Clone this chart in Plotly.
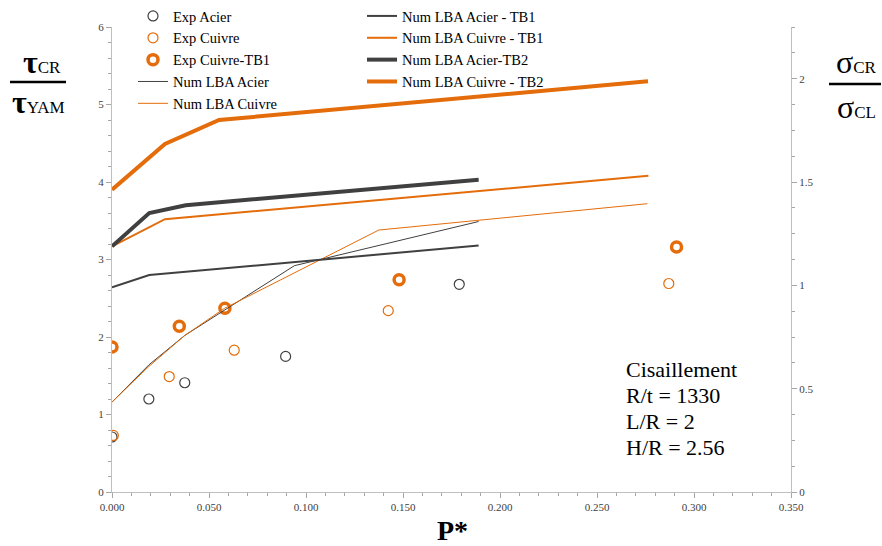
import plotly.graph_objects as go

# ---------------- data ----------------
exp_acier_x = [0.0, 0.019, 0.0375, 0.0895, 0.179]
exp_acier_y = [0.71, 1.20, 1.41, 1.75, 2.68]

exp_cuivre_x = [0.0007, 0.0295, 0.063, 0.1424, 0.287]
exp_cuivre_y = [0.73, 1.49, 1.83, 2.34, 2.69]

exp_cuivre_tb1_x = [0.0, 0.0347, 0.0582, 0.148, 0.291]
exp_cuivre_tb1_y = [1.87, 2.14, 2.37, 2.74, 3.16]

num_acier_x = [0.0, 0.019, 0.0375, 0.058, 0.094, 0.189]
num_acier_y = [1.16, 1.64, 2.02, 2.35, 2.92, 3.49]

num_cuivre_x = [0.0, 0.019, 0.0375, 0.058, 0.1375, 0.276]
num_cuivre_y = [1.16, 1.62, 2.02, 2.37, 3.38, 3.72]

num_acier_tb1_x = [0.0, 0.0192, 0.189]
num_acier_tb1_y = [2.64, 2.80, 3.18]

num_cuivre_tb1_x = [0.0, 0.0273, 0.2765]
num_cuivre_tb1_y = [3.17, 3.52, 4.08]

num_acier_tb2_x = [0.0, 0.0192, 0.038, 0.189]
num_acier_tb2_y = [3.17, 3.60, 3.70, 4.03]

num_cuivre_tb2_x = [0.0, 0.0273, 0.0552, 0.2763]
num_cuivre_tb2_y = [3.90, 4.49, 4.80, 5.30]

x_ticks = [0.0, 0.05, 0.1, 0.15, 0.2, 0.25, 0.3, 0.35]
y_ticks = [0, 1, 2, 3, 4, 5, 6]
y2_ticks = [0, 0.5, 1, 1.5, 2]

case_lines = ["Cisaillement", "R/t = 1330", "L/R = 2", "H/R = 2.56"]

ORANGE = "#E46C0A"
DARK = "#404040"
FONT = "Liberation Serif"

# plot-area geometry in page pixels
W, H = 882, 546
PL, PR, PT, PB = 112, 791, 27, 492
PW, PH = PR - PL, PB - PT


def px(xp):
    return (xp - PL) / PW


def py(yp):
    return (PB - yp) / PH


fig = go.Figure()

# legend 1 (left column)
fig.add_trace(go.Scatter(x=exp_acier_x, y=exp_acier_y, mode="markers", name="Exp Acier",
                         marker=dict(symbol="circle-open", size=10, color=DARK, line=dict(width=1.2)),
                         legend="legend"))
fig.add_trace(go.Scatter(x=exp_cuivre_x, y=exp_cuivre_y, mode="markers", name="Exp Cuivre",
                         marker=dict(symbol="circle-open", size=10, color=ORANGE, line=dict(width=1.2)),
                         legend="legend"))
fig.add_trace(go.Scatter(x=exp_cuivre_tb1_x, y=exp_cuivre_tb1_y, mode="markers", name="Exp Cuivre-TB1",
                         marker=dict(symbol="circle", size=10, color="white", line=dict(color=ORANGE, width=3.5)),
                         legend="legend"))
fig.add_trace(go.Scatter(x=num_acier_x, y=num_acier_y, mode="lines", name="Num LBA Acier",
                         line=dict(color=DARK, width=1), legend="legend"))
fig.add_trace(go.Scatter(x=num_cuivre_x, y=num_cuivre_y, mode="lines", name="Num LBA Cuivre",
                         line=dict(color=ORANGE, width=1), legend="legend"))

# legend 2 (right column)
fig.add_trace(go.Scatter(x=num_acier_tb1_x, y=num_acier_tb1_y, mode="lines", name="Num LBA Acier - TB1",
                         line=dict(color=DARK, width=2), legend="legend2"))
fig.add_trace(go.Scatter(x=num_cuivre_tb1_x, y=num_cuivre_tb1_y, mode="lines", name="Num LBA Cuivre - TB1",
                         line=dict(color=ORANGE, width=2), legend="legend2"))
fig.add_trace(go.Scatter(x=num_acier_tb2_x, y=num_acier_tb2_y, mode="lines", name="Num LBA Acier-TB2",
                         line=dict(color=DARK, width=4), legend="legend2"))
fig.add_trace(go.Scatter(x=num_cuivre_tb2_x, y=num_cuivre_tb2_y, mode="lines", name="Num LBA Cuivre - TB2",
                         line=dict(color=ORANGE, width=4), legend="legend2"))

# invisible trace to activate right axis
fig.add_trace(go.Scatter(x=[0], y=[0], yaxis="y2", mode="markers", marker=dict(opacity=0),
                         showlegend=False, hoverinfo="skip"))

axis_common = dict(showline=True, linecolor="#BFBFBF", linewidth=1, showgrid=False, zeroline=False,
                   ticks="outside", tickcolor="#A6A6A6", ticklen=5,
                   tickfont=dict(family=FONT, size=11, color="#404040"))

legend_font = dict(family=FONT, size=14.5, color="black")

fig.update_layout(
    width=W, height=H,
    margin=dict(l=PL, r=W - PR, t=PT, b=H - PB, autoexpand=False),
    paper_bgcolor="white", plot_bgcolor="white",
    font=dict(family=FONT, color="black"),
    xaxis=dict(range=[0, 0.35], tickvals=x_ticks, tickformat=".3f",
               minor=dict(dtick=0.01, ticks="outside", ticklen=3, tickcolor="#A6A6A6"),
               **axis_common),
    yaxis=dict(range=[0, 6], tickvals=y_ticks,
               minor=dict(dtick=0.2, ticks="outside", ticklen=3, tickcolor="#A6A6A6"),
               **axis_common),
    yaxis2=dict(range=[0, 2.25], tickvals=y2_ticks, overlaying="y", side="right",
                minor=dict(dtick=0.125, ticks="outside", ticklen=3, tickcolor="#A6A6A6"),
                **axis_common),
    legend=dict(x=px(133), y=py(0), xanchor="left", yanchor="top",
                font=legend_font, bgcolor="rgba(0,0,0,0)", tracegroupgap=0, itemwidth=30),
    legend2=dict(x=px(362), y=py(0), xanchor="left", yanchor="top",
                 font=legend_font, bgcolor="rgba(0,0,0,0)", tracegroupgap=0, itemwidth=30),
    showlegend=True,
)

# axis titles
fig.add_annotation(xref="paper", yref="paper", x=px(452), y=py(530), yanchor="middle",
                   text="<b>P*</b>", showarrow=False, font=dict(family=FONT, size=28, color="black"))

fig.add_annotation(xref="paper", yref="paper", x=px(42), y=py(62), xanchor="center", yanchor="middle",
                   text="<b>τ</b><span style='font-size:17px'>CR</span>", showarrow=False,
                   font=dict(family=FONT, size=32, color="black"))
fig.add_annotation(xref="paper", yref="paper", x=px(38), y=py(102), xanchor="center", yanchor="middle",
                   text="<b>τ</b><span style='font-size:17px'>YAM</span>", showarrow=False,
                   font=dict(family=FONT, size=32, color="black"))
fig.add_shape(type="line", xref="paper", yref="paper",
              x0=px(10), x1=px(66), y0=py(82), y1=py(82),
              line=dict(color="black", width=2.5))

fig.add_annotation(xref="paper", yref="paper", x=px(856), y=py(62), xanchor="center", yanchor="middle",
                   text="σ<span style='font-size:17px'>CR</span>", showarrow=False,
                   font=dict(family=FONT, size=32, color="black"))
fig.add_annotation(xref="paper", yref="paper", x=px(856), y=py(107), xanchor="center", yanchor="middle",
                   text="σ<span style='font-size:17px'>CL</span>", showarrow=False,
                   font=dict(family=FONT, size=32, color="black"))
fig.add_shape(type="line", xref="paper", yref="paper",
              x0=px(829), x1=px(881), y0=py(84), y1=py(84),
              line=dict(color="black", width=2.5))

# case annotation (one line each, to keep the tight line spacing)
for i, line_text in enumerate(case_lines):
    fig.add_annotation(xref="paper", yref="paper", x=px(624), y=py(370 + 25.7 * i),
                       xanchor="left", yanchor="middle", align="left",
                       text=line_text, showarrow=False,
                       font=dict(family=FONT, size=22, color="black"))

fig.write_html("out.html", config={"displayModeBar": False},
               post_script="document.body.style.margin='0';document.body.style.overflow='hidden';")
